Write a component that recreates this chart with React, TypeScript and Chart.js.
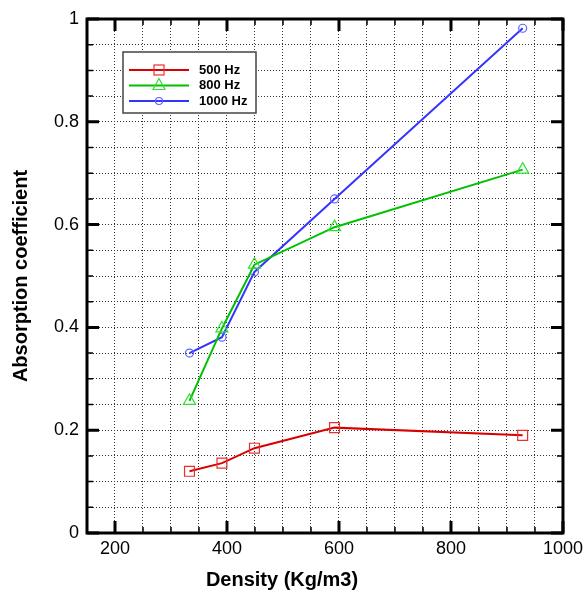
import React, { useEffect, useRef } from "react";
import { Chart, registerables } from "chart.js";

Chart.register(...registerables);

const densities = [333, 391, 449, 592, 928];
const hz500 = [0.12, 0.136, 0.165, 0.205, 0.19];
const hz800 = [0.257, 0.398, 0.522, 0.595, 0.707];
const hz1000 = [0.35, 0.381, 0.508, 0.65, 0.982];
const seriesLabels = ["500 Hz", "800 Hz", "1000 Hz"];
const xTickLabels = [200, 400, 600, 800, 1000];
const yTickLabels = [0, 0.2, 0.4, 0.6, 0.8, 1];
const xTitle = "Density (Kg/m3)";
const yTitle = "Absorption coefficient";

const lineColors = ["#d80000", "#00c000", "#3434ff"];
const markerColors = ["#e83030", "#30e030", "#6060ff"];
const markerStyles = ["rect", "triangle", "circle"];
const markerRadius = [7, 7, 4];

const FONT = "'Liberation Sans', Arial, sans-serif";

const framePlugin = {
  id: "frame",
  afterDraw(chart: any) {
    const { ctx, chartArea: a, scales } = chart;
    const xs = scales.x;
    const ys = scales.y;
    ctx.save();
    ctx.strokeStyle = "#000";
    ctx.lineCap = "butt";
    for (let v = 150; v <= 1000; v += 50) {
      const px = xs.getPixelForValue(v);
      const major = v % 200 === 0;
      ctx.lineWidth = major ? 3 : 1.5;
      const len = major ? 12 : 6;
      ctx.beginPath();
      ctx.moveTo(px, a.bottom);
      ctx.lineTo(px, a.bottom - len);
      ctx.moveTo(px, a.top);
      ctx.lineTo(px, a.top + len);
      ctx.stroke();
    }
    for (let i = 0; i <= 20; i++) {
      const v = i * 0.05;
      const py = ys.getPixelForValue(v);
      const major = i % 4 === 0;
      ctx.lineWidth = major ? 3 : 1.5;
      const len = major ? 12 : 6;
      ctx.beginPath();
      ctx.moveTo(a.left, py);
      ctx.lineTo(a.left + len, py);
      ctx.moveTo(a.right, py);
      ctx.lineTo(a.right - len, py);
      ctx.stroke();
    }
    ctx.lineWidth = 3;
    ctx.strokeRect(a.left, a.top, a.right - a.left, a.bottom - a.top);
    ctx.fillStyle = "#000";
    ctx.font = `bold 20px ${FONT}`;
    ctx.textAlign = "center";
    ctx.textBaseline = "middle";
    ctx.fillText(xTitle, 282, 580);
    ctx.restore();
  },
};

const legendPlugin = {
  id: "customLegend",
  afterDraw(chart: any) {
    const { ctx } = chart;
    const bx = 123, by = 52, bw = 133, bh = 61;
    ctx.save();
    ctx.fillStyle = "#fff";
    ctx.fillRect(bx, by, bw, bh);
    ctx.strokeStyle = "#444";
    ctx.lineWidth = 1.5;
    ctx.strokeRect(bx, by, bw, bh);
    const rows = [70, 85.5, 101];
    seriesLabels.forEach((lab, i) => {
      const y = rows[i];
      ctx.strokeStyle = lineColors[i];
      ctx.lineWidth = 2;
      ctx.beginPath();
      ctx.moveTo(129, y);
      ctx.lineTo(189, y);
      ctx.stroke();
      ctx.strokeStyle = markerColors[i];
      ctx.lineWidth = 1.2;
      const cx = 159;
      if (markerStyles[i] === "rect") {
        ctx.strokeRect(cx - 5, y - 5, 10, 10);
      } else if (markerStyles[i] === "triangle") {
        ctx.beginPath();
        ctx.moveTo(cx, y - 7);
        ctx.lineTo(cx - 6, y + 4);
        ctx.lineTo(cx + 6, y + 4);
        ctx.closePath();
        ctx.stroke();
      } else {
        ctx.beginPath();
        ctx.arc(cx, y, 3.5, 0, Math.PI * 2);
        ctx.stroke();
      }
      ctx.fillStyle = "#000";
      ctx.font = `bold 13px ${FONT}`;
      ctx.textBaseline = "middle";
      ctx.textAlign = "left";
      ctx.fillText(lab, 199, y);
    });
    ctx.restore();
  },
};

export default function App() {
  const ref = useRef<HTMLCanvasElement>(null);
  useEffect(() => {
    document.body.style.margin = "0";
    const series = [hz500, hz800, hz1000];
    const chart = new Chart(ref.current!, {
      type: "line",
      data: {
        datasets: series.map((vals, i) => ({
          label: seriesLabels[i],
          data: vals.map((v, j) => ({ x: densities[j], y: v })),
          borderColor: lineColors[i],
          borderWidth: 2,
          pointStyle: markerStyles[i] as any,
          pointRadius: markerRadius[i],
          pointBorderColor: markerColors[i],
          pointBackgroundColor: "rgba(0,0,0,0)",
          pointBorderWidth: 1.2,
          tension: 0,
          fill: false,
        })),
      },
      options: {
        animation: false,
        responsive: false,
        layout: { padding: { top: 19, right: 22, left: 0, bottom: 0 } },
        plugins: { legend: { display: false }, tooltip: { enabled: false } },
        scales: {
          x: {
            type: "linear",
            min: 150,
            max: 1000,
            afterFit: (s: any) => {
              s.height = 58;
            },
            ticks: {
              stepSize: 50,
              autoSkip: false,
              maxRotation: 0,
              padding: 5,
              color: "#000",
              font: { family: FONT, size: 18 },
              callback: (v: any) => (xTickLabels.includes(v) ? String(v) : ""),
            },
            grid: { color: "#333", lineWidth: 1, drawTicks: false },
            border: { display: false, dash: [1, 2] },
          },
          y: {
            type: "linear",
            min: 0,
            max: 1,
            afterFit: (s: any) => {
              s.width = 87;
            },
            ticks: {
              stepSize: 0.05,
              autoSkip: false,
              padding: 8,
              color: "#000",
              font: { family: FONT, size: 18 },
              callback: (v: any) => {
                const r = Math.round(v * 100);
                if (r % 20 !== 0) return "";
                const found = yTickLabels.find((t) => Math.round(t * 100) === r);
                if (found === undefined) return "";
                return found === 0 ? "0" : found === 1 ? "1" : found.toFixed(1);
              },
            },
            grid: { color: "#333", lineWidth: 1, drawTicks: false },
            border: { display: false, dash: [1, 2] },
            title: {
              display: true,
              text: yTitle,
              color: "#000",
              font: { family: FONT, size: 20, weight: "bold" },
              padding: { top: 9, bottom: 0 },
            },
          },
        },
      },
      plugins: [framePlugin, legendPlugin],
    });
    return () => chart.destroy();
  }, []);
  return (
    <div style={{ width: 588, height: 591 }}>
      <canvas ref={ref} width={588} height={591} style={{ display: "block" }} />
    </div>
  );
}
